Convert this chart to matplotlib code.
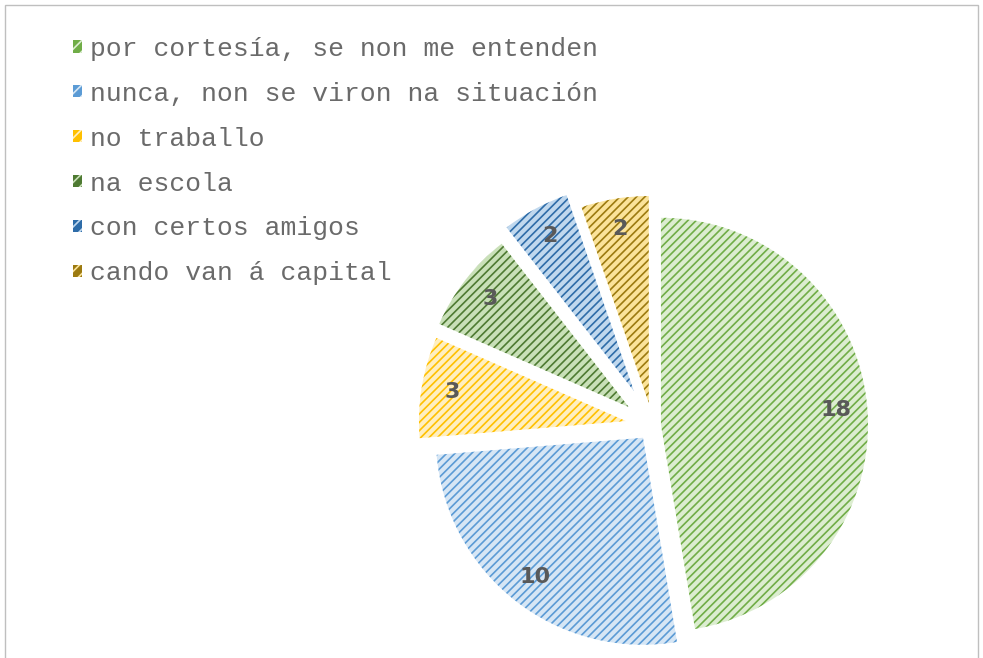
import matplotlib
matplotlib.use("Agg")
import matplotlib.pyplot as plt
from matplotlib.patches import Rectangle, Patch

categories = ["por cortesía, se non me entenden", "nunca, non se viron na situación",
              "no traballo", "na escola", "con certos amigos", "cando van á capital"]
values = [18, 10, 3, 3, 2, 2]
stripe_colors = ["#70AD47", "#5B9BD5", "#FFC000", "#4E7A32", "#2E6CA8", "#9C7A10"]
back_colors = ["#DCEDD0", "#D6E6F5", "#FFEFC0", "#C9E0B8", "#C0D8EE", "#FBE39A"]
explode = [0.041, 0.075, 0.13, 0.145, 0.19, 0.11]

plt.rcParams['hatch.linewidth'] = 1.2
W, H, DPI = 983, 658, 100
fig = plt.figure(figsize=(W / DPI, H / DPI), dpi=DPI)
fig.patch.set_facecolor("white")

# figure border
fig.add_artist(Rectangle((5 / W, -0.1), (978 - 5) / W, (H - 5) / H + 0.1,
                         transform=fig.transFigure, fill=False,
                         edgecolor="#BFBFBF", linewidth=1.0))

ax = fig.add_axes([0, 0, 1, 1])
total = sum(values)
wedges, texts, autotexts = ax.pie(
    values, explode=explode, startangle=90, counterclock=False,
    colors=back_colors, autopct=lambda p: f"{round(p * total / 100)}",
    pctdistance=0.85, radius=1.0,
    wedgeprops=dict(linewidth=0),
    textprops=dict(color="#595959", fontsize=16, fontweight="bold",
                   family="DejaVu Sans"))
for w, sc in zip(wedges, stripe_colors):
    w.set_hatch("////")
    w.set_edgecolor(sc)
    w.set_linewidth(0)

cx, cy, r = 652.5, 425.5, 207.0
ax.set_aspect("auto")
ax.set_xlim(-cx / r, (W - cx) / r)
ax.set_ylim((cy - H) / r, cy / r)
ax.axis("off")

handles = [Patch(facecolor=sc, edgecolor=bc, hatch="///", linewidth=0)
           for sc, bc in zip(stripe_colors, back_colors)]
leg = ax.legend(handles, categories, loc="upper left",
                bbox_to_anchor=(73 / W, 1 - 37 / H), bbox_transform=fig.transFigure,
                frameon=False, borderpad=0, borderaxespad=0,
                handlelength=0.33, handleheight=0.33, handletextpad=0.3,
                labelspacing=0.79,
                prop=dict(family="Liberation Mono", size=19))
for t in leg.get_texts():
    t.set_color("#6A6A6A")

fig.savefig("out.png", dpi=DPI)
